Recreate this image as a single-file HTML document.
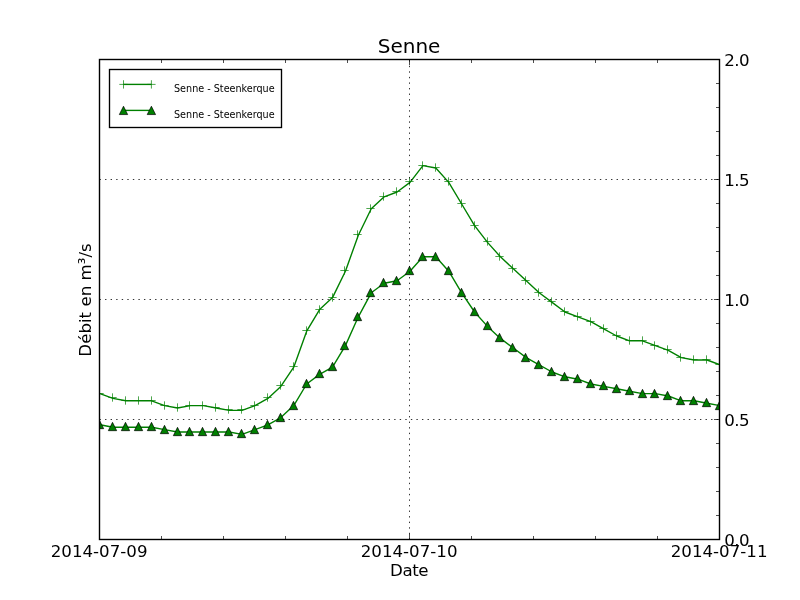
<!DOCTYPE html>
<html lang="fr"><head><meta charset="utf-8"><title>Senne</title>
<style>html,body{margin:0;padding:0;background:#fff;overflow:hidden}svg{display:block}text{font-family:"DejaVu Sans","Liberation Sans",sans-serif;fill:#000}</style></head>
<body>
<svg width="800" height="600" viewBox="0 0 800 600">
<rect width="800" height="600" fill="#fff"/>
<defs><clipPath id="c"><rect x="99.5" y="59.5" width="620" height="480"/></clipPath></defs>
<g transform="translate(-0.5 -0.5)">
<g clip-path="url(#c)" transform="translate(0.5 0.5)">
<polyline points="100.00,393.60 112.92,398.40 125.83,400.80 138.75,400.80 151.67,400.80 164.58,405.60 177.50,408.00 190.42,405.60 203.33,405.60 216.25,408.00 229.17,410.40 242.08,410.40 255.00,405.60 267.92,398.40 280.83,386.40 293.75,367.20 306.67,331.20 319.58,309.60 332.50,297.60 345.42,271.20 358.33,235.20 371.25,208.80 384.17,196.80 397.08,192.00 410.00,182.40 422.92,165.60 435.83,168.00 448.75,182.40 461.67,204.00 474.58,225.60 487.50,242.40 500.42,256.80 513.33,268.80 526.25,280.80 539.17,292.80 552.08,302.40 565.00,312.00 577.92,316.80 590.83,321.60 603.75,328.80 616.67,336.00 629.58,340.80 642.50,340.80 655.42,345.60 668.33,350.40 681.25,357.60 694.17,360.00 707.08,360.00 720.00,364.80" fill="none" stroke="#008000" stroke-width="1.39" stroke-linejoin="round"/>
<path d="M95.33 393.50h8.34M99.50 389.33v8.34M108.33 397.50h8.34M112.50 393.33v8.34M121.33 400.50h8.34M125.50 396.33v8.34M134.33 400.50h8.34M138.50 396.33v8.34M147.33 400.50h8.34M151.50 396.33v8.34M160.33 405.50h8.34M164.50 401.33v8.34M173.33 407.50h8.34M177.50 403.33v8.34M185.33 405.50h8.34M189.50 401.33v8.34M198.33 405.50h8.34M202.50 401.33v8.34M211.33 407.50h8.34M215.50 403.33v8.34M224.33 409.50h8.34M228.50 405.33v8.34M237.33 409.50h8.34M241.50 405.33v8.34M250.33 405.50h8.34M254.50 401.33v8.34M263.33 397.50h8.34M267.50 393.33v8.34M276.33 385.50h8.34M280.50 381.33v8.34M289.33 366.50h8.34M293.50 362.33v8.34M302.33 330.50h8.34M306.50 326.33v8.34M315.33 309.50h8.34M319.50 305.33v8.34M328.33 297.50h8.34M332.50 293.33v8.34M340.33 270.50h8.34M344.50 266.33v8.34M353.33 234.50h8.34M357.50 230.33v8.34M366.33 208.50h8.34M370.50 204.33v8.34M379.33 196.50h8.34M383.50 192.33v8.34M392.33 191.50h8.34M396.50 187.33v8.34M405.33 181.50h8.34M409.50 177.33v8.34M418.33 165.50h8.34M422.50 161.33v8.34M431.33 167.50h8.34M435.50 163.33v8.34M444.33 181.50h8.34M448.50 177.33v8.34M457.33 203.50h8.34M461.50 199.33v8.34M470.33 225.50h8.34M474.50 221.33v8.34M483.33 241.50h8.34M487.50 237.33v8.34M495.33 256.50h8.34M499.50 252.33v8.34M508.33 268.50h8.34M512.50 264.33v8.34M521.33 280.50h8.34M525.50 276.33v8.34M534.33 292.50h8.34M538.50 288.33v8.34M547.33 301.50h8.34M551.50 297.33v8.34M560.33 311.50h8.34M564.50 307.33v8.34M573.33 316.50h8.34M577.50 312.33v8.34M586.33 321.50h8.34M590.50 317.33v8.34M599.33 328.50h8.34M603.50 324.33v8.34M612.33 335.50h8.34M616.50 331.33v8.34M625.33 340.50h8.34M629.50 336.33v8.34M638.33 340.50h8.34M642.50 336.33v8.34M650.33 345.50h8.34M654.50 341.33v8.34M663.33 349.50h8.34M667.50 345.33v8.34M676.33 357.50h8.34M680.50 353.33v8.34M689.33 359.50h8.34M693.50 355.33v8.34M702.33 359.50h8.34M706.50 355.33v8.34M715.33 364.50h8.34M719.50 360.33v8.34" stroke="#008000" stroke-width="0.7" fill="none"/>
<polyline points="100.00,424.80 112.92,427.20 125.83,427.20 138.75,427.20 151.67,427.20 164.58,429.60 177.50,432.00 190.42,432.00 203.33,432.00 216.25,432.00 229.17,432.00 242.08,434.40 255.00,429.60 267.92,424.80 280.83,417.60 293.75,405.60 306.67,384.00 319.58,374.40 332.50,367.20 345.42,345.60 358.33,316.80 371.25,292.80 384.17,283.20 397.08,280.80 410.00,271.20 422.92,256.80 435.83,256.80 448.75,271.20 461.67,292.80 474.58,312.00 487.50,326.40 500.42,338.40 513.33,348.00 526.25,357.60 539.17,364.80 552.08,372.00 565.00,376.80 577.92,379.20 590.83,384.00 603.75,386.40 616.67,388.80 629.58,391.20 642.50,393.60 655.42,393.60 668.33,396.00 681.25,400.80 694.17,400.80 707.08,403.20 720.00,405.60" fill="none" stroke="#008000" stroke-width="1.39" stroke-linejoin="round"/>
<path d="M99.50 420.33l-4.17 8.34h8.34zM112.50 422.33l-4.17 8.34h8.34zM125.50 422.33l-4.17 8.34h8.34zM138.50 422.33l-4.17 8.34h8.34zM151.50 422.33l-4.17 8.34h8.34zM164.50 425.33l-4.17 8.34h8.34zM177.50 427.33l-4.17 8.34h8.34zM189.50 427.33l-4.17 8.34h8.34zM202.50 427.33l-4.17 8.34h8.34zM215.50 427.33l-4.17 8.34h8.34zM228.50 427.33l-4.17 8.34h8.34zM241.50 429.33l-4.17 8.34h8.34zM254.50 425.33l-4.17 8.34h8.34zM267.50 420.33l-4.17 8.34h8.34zM280.50 413.33l-4.17 8.34h8.34zM293.50 401.33l-4.17 8.34h8.34zM306.50 379.33l-4.17 8.34h8.34zM319.50 369.33l-4.17 8.34h8.34zM332.50 362.33l-4.17 8.34h8.34zM344.50 341.33l-4.17 8.34h8.34zM357.50 312.33l-4.17 8.34h8.34zM370.50 288.33l-4.17 8.34h8.34zM383.50 278.33l-4.17 8.34h8.34zM396.50 276.33l-4.17 8.34h8.34zM409.50 266.33l-4.17 8.34h8.34zM422.50 252.33l-4.17 8.34h8.34zM435.50 252.33l-4.17 8.34h8.34zM448.50 266.33l-4.17 8.34h8.34zM461.50 288.33l-4.17 8.34h8.34zM474.50 307.33l-4.17 8.34h8.34zM487.50 321.33l-4.17 8.34h8.34zM499.50 333.33l-4.17 8.34h8.34zM512.50 343.33l-4.17 8.34h8.34zM525.50 353.33l-4.17 8.34h8.34zM538.50 360.33l-4.17 8.34h8.34zM551.50 367.33l-4.17 8.34h8.34zM564.50 372.33l-4.17 8.34h8.34zM577.50 374.33l-4.17 8.34h8.34zM590.50 379.33l-4.17 8.34h8.34zM603.50 381.33l-4.17 8.34h8.34zM616.50 384.33l-4.17 8.34h8.34zM629.50 386.33l-4.17 8.34h8.34zM642.50 389.33l-4.17 8.34h8.34zM654.50 389.33l-4.17 8.34h8.34zM667.50 391.33l-4.17 8.34h8.34zM680.50 396.33l-4.17 8.34h8.34zM693.50 396.33l-4.17 8.34h8.34zM706.50 398.33l-4.17 8.34h8.34zM719.50 401.33l-4.17 8.34h8.34z" stroke="#000" stroke-width="0.7" fill="#008000" stroke-linejoin="miter"/>
</g>
<g stroke="#000" stroke-width="1" stroke-dasharray="1.39 4.17" stroke-dashoffset="0" fill="none" opacity="0.8">
<path d="M410 540.25V60"/>
<path d="M100 420.0H720"/>
<path d="M100 300.0H720"/>
<path d="M100 180.0H720"/>
</g>
<path d="M100 540v-5.56M100 60v5.56M162 540v-3.5M162 60v3.5M224 540v-3.5M224 60v3.5M286 540v-3.5M286 60v3.5M348 540v-3.5M348 60v3.5M410 540v-5.56M410 60v5.56M472 540v-3.5M472 60v3.5M534 540v-3.5M534 60v3.5M596 540v-3.5M596 60v3.5M658 540v-3.5M658 60v3.5M720 540v-5.56M720 60v5.56M720 540h-5.56M720 516h-3.5M720 492h-3.5M720 468h-3.5M720 444h-3.5M720 420h-5.56M720 396h-3.5M720 372h-3.5M720 348h-3.5M720 324h-3.5M720 300h-5.56M720 276h-3.5M720 252h-3.5M720 228h-3.5M720 204h-3.5M720 180h-5.56M720 156h-3.5M720 132h-3.5M720 108h-3.5M720 84h-3.5M720 60h-5.56" stroke="#000" stroke-width="0.7" fill="none"/>
<rect x="100" y="60" width="620" height="480" fill="none" stroke="#000" stroke-width="1.4"/>
</g>
<text x="409.1" y="53" font-size="20" text-anchor="middle">Senne</text>
<text x="99.1" y="557" font-size="16.67" text-anchor="middle">2014-07-09</text>
<text x="409.1" y="557" font-size="16.67" text-anchor="middle">2014-07-10</text>
<text x="719.1" y="557" font-size="16.67" text-anchor="middle">2014-07-11</text>
<text x="409.3" y="576" font-size="16.67" text-anchor="middle" textLength="38.5">Date</text>
<text x="724.3" y="546.2" font-size="16.67" textLength="25.4">0.0</text>
<text x="724.3" y="426.2" font-size="16.67" textLength="25.4">0.5</text>
<text x="724.3" y="306.2" font-size="16.67" textLength="25.4">1.0</text>
<text x="724.3" y="186.2" font-size="16.67" textLength="25.4">1.5</text>
<text x="724.3" y="66.2" font-size="16.67" textLength="25.4">2.0</text>
<text transform="translate(91 300) rotate(-90)" font-size="16.67" text-anchor="middle">Débit en m³/s</text>
<rect x="109.5" y="69.5" width="172" height="58" fill="#fff" stroke="#000" stroke-width="1.35"/>
<path d="M123.5 84.4H151.4" stroke="#008000" stroke-width="1.39"/>
<path d="M119.33 84.40h8.34M123.50 80.23v8.34M147.23 84.40h8.34M151.40 80.23v8.34" stroke="#008000" stroke-width="0.7" fill="none"/>
<path d="M123.5 110.4H151.4" stroke="#008000" stroke-width="1.39"/>
<path d="M123.50 106.23l-4.17 8.34h8.34zM151.40 106.23l-4.17 8.34h8.34z" stroke="#000" stroke-width="0.7" fill="#008000"/>
<text x="174" y="91.5" font-size="9.65">Senne - Steenkerque</text>
<text x="174" y="117.5" font-size="9.65">Senne - Steenkerque</text>
</svg>
</body></html>
